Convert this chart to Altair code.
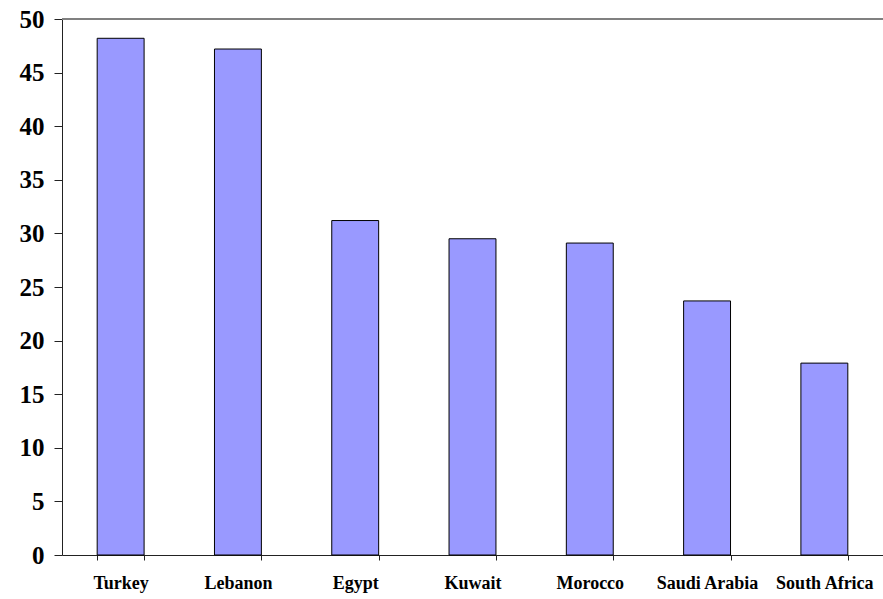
import altair as alt
import pandas as pd

# Bar values per country
countries = ["Turkey", "Lebanon", "Egypt", "Kuwait", "Morocco", "Saudi Arabia", "South Africa"]
values = [48.2, 47.2, 31.2, 29.5, 29.1, 23.7, 17.9]
y_ticks = [0, 5, 10, 15, 20, 25, 30, 35, 40, 45, 50]

df = pd.DataFrame({"country": countries, "value": values})

FONT = "Liberation Serif"

x_enc = alt.X(
    "country:N",
    sort=countries,
    title=None,
    scale=alt.Scale(paddingInner=0.6, paddingOuter=0.3),
    axis=alt.Axis(
        labelAngle=0,
        labelFont=FONT,
        labelFontSize=18,
        labelFontWeight="bold",
        labelColor="black",
        labelPadding=14,
        tickBand="extent",
        tickSize=5,
        tickColor="#222222",
        domainColor="#222222",
        domainWidth=1,
        grid=False,
    ),
)

y_enc = alt.Y(
    "value:Q",
    title=None,
    scale=alt.Scale(domain=[0, 50], nice=False),
    axis=alt.Axis(
        values=y_ticks,
        labelFont=FONT,
        labelFontSize=25,
        labelFontWeight="bold",
        labelColor="black",
        labelPadding=10,
        tickSize=8,
        tickColor="#222222",
        domainColor="#222222",
        domainWidth=1,
        grid=False,
    ),
)

bars = alt.Chart(df).mark_bar(
    color="#9999FF", stroke="black", strokeWidth=1
).encode(x=x_enc, y=y_enc)

# Gray frame line along the top of the plot area
top_line = alt.Chart(df).mark_rule(color="#808080", strokeWidth=1.5).encode(
    y=alt.datum(50)
)

chart = (
    alt.layer(bars, top_line)
    .properties(
        width=821,
        height=536,
        autosize=alt.AutoSizeParams(type="none"),
        padding={"left": 62, "top": 19, "right": 0, "bottom": 44},
        background="white",
    )
    .configure_view(stroke=None)
)

chart.save("out.html", embed_options={"renderer": "svg", "actions": False})
